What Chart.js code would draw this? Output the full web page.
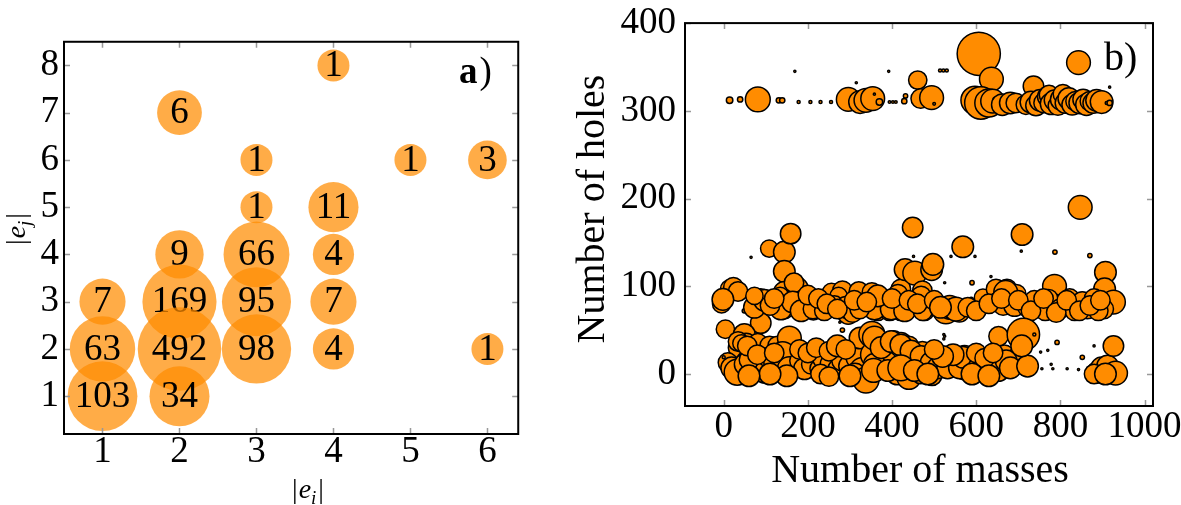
<!DOCTYPE html>
<html>
<head>
<meta charset="utf-8">
<script src="https://cdn.jsdelivr.net/npm/chart.js@4.4.0/dist/chart.umd.min.js"></script>
<style>
  html, body { margin: 0; padding: 0; background: #fff; overflow: hidden; }
  #boxA { position: absolute; left: 0; top: 0; }
  #boxB { position: absolute; left: 570px; top: 0; }
</style>
</head>
<body>
<div id="boxA"><canvas id="chartA" width="560" height="505"></canvas></div>
<div id="boxB"><canvas id="chartB" width="611" height="505"></canvas></div>
<script>
// ---- panel a) : pair counts per (|e_i|, |e_j|) ----
const pairI     = [1, 1, 1,   2, 2, 2,   2,   2,  3, 3, 3,  3,  3,  4, 4,  4, 4, 4,  5,  6, 6];
const pairJ     = [3, 2, 1,   7, 4, 3,   2,   1,  6, 5, 4,  3,  2,  8, 5,  4, 3, 2,  6,  6, 2];
const pairCount = [7, 63, 103, 6, 9, 169, 492, 34, 1, 1, 66, 95, 98, 1, 11, 4, 7, 4,  1,  3, 1];
const ticksI = [1, 2, 3, 4, 5, 6];
const ticksJ = [1, 2, 3, 4, 5, 6, 7, 8];

// ---- panel b) : number of masses vs number of holes, marker area ----
const massesX = [
  // upper band
  14, 39, 81, 131, 139, 169, 178, 206, 230, 255, 296, 324, 338, 354, 358, 370, 315, 392, 394, 402,
  409, 429, 432, 461, 468, 494, 500, 514, 522, 530, 606, 636, 597, 611, 630, 639, 645, 662, 681, 694,
  704, 718, 736, 730, 742, 752, 760, 770, 773, 778, 786, 794, 802, 806, 812, 820, 828, 836, 846, 854,
  862, 870, 878, 886, 898, 910, 917, 917, 843,
  // middle band
  -5, 14, 23, 34, 9, 49, 88, 77, 88, 65, 108, 144, 159, 144, 144, 157, 176, 190, 144, 134,
  167, 213, 236, 256, 256, 282, 273, 296, 321, 352, 301, 282, 276, 338, 366, 380, 394, 421, 429, 421,
  431, 454, 472, 477, 494, 497, 449, 451, 444, 528, 537, 546, 560, 525, 523, 523, 568, 597, 540, 709,
  707, 787, 635, 590, 786, 616, 647, 673, 695, 670, 651, 664, 691, 722, 754, 786, 810, 588, 588, 847,
  870, 907, 905, 926, 903, 738, 764, 772, 798, 822, 834, 852, 864, 880, 890, 358, 398, 430, 473, 552,
  366, 414, 469, -2, 73, 97, 136, 164, 184, 212, 239, 263, 291, 306, 323, 73,
  110, 120, 200, 225, 245, 270, 310, 340, 400, 440, 460, 500, 515, 580, 600, 630, 660, 700, 730, 760,
  790, 815, 845, 870, 895,
  // lower band
  4, 49, 53, 81, 109, 128, 156, 34, 34, 198, 10, 26, 57, 81, 97, 105, 121, 140, 140, 156,
  180, 192, 208, 228, 235, 255, 271, 280, 299, 319, 330, 312, 338, 324, 352, 375, 356, 384, 403, 421,
  440, 449, 477, 500, 523, 412, 440, 468, 495, 472, 358, 358, 374, 398, 421, 445, 469, 493, 509, 532,
  572, 572, 612, 643, 667, 667, 691, 718, 356, 390, 421, 453, 485, 560, 569, 606, 634, 653, 671, 681,
  722, 653, 712, 708, 738, 525, 753, 770, 792, 756, 778, 782, 816, 843, 852, 866, 870, 880, 889, 898,
  912, 931, 880, 907, 926, 0, 19, 32, 51, 60, 42, 56,
  180, 200, 220, 250, 270, 290, 230, 250, 300, 150, 110, 60, 80, 120, 600, 620, 640, 590, 630, 545,
  520, 500
];
const holesY = [
  312, 313, 313, 312, 312, 345, 310, 310, 310, 310, 313, 310, 312, 314, 319, 310, 332, 345, 310, 310,
  310, 311, 317, 335, 314, 315, 308, 346, 346, 346, 365, 336, 312, 309, 309, 311, 313, 307, 309, 309,
  312, 307, 328, 310, 306, 312, 309, 316, 318, 308, 312, 306, 313, 319, 309, 314, 307, 311, 309, 313,
  307, 311, 309, 312, 310, 309, 309, 327, 355,
  80, 97, 99, 94, 77, 72, 86, 74, 58, 133, 143, 139, 160, 117, 93, 82, 98, 78, 74, 89,
  104, 72, 72, 78, 93, 95, 89, 69, 94, 93, 77, 50, 59, 72, 72, 74, 72, 72, 78, 97,
  119, 115, 95, 72, 119, 125, 167, 134, 76, 72, 76, 74, 71, 104, 45, 40, 145, 134, 134, 159,
  140, 139, 111, 104, 100, 87, 97, 97, 91, 93, 82, 78, 78, 76, 78, 80, 80, 85, 82, 190,
  135, 116, 97, 82, 74, 84, 72, 86, 74, 86, 72, 82, 74, 86, 72, 74, 74, 72, 72, 74,
  89, 91, 89, 85, 76, 84, 74, 82, 72, 74, 72, 78, 76, 70, 74, 89,
  78, 86, 90, 86, 80, 74, 84, 82, 86, 84, 80, 84, 76, 76, 72, 80, 86, 84, 72, 86,
  70, 84, 72, 78, 84,
  51, 45, 34, 35, 32, 32, 41, 30, 37, 33, 13, 6, 13, 9, 2, 19, 13, 9, 22, 6,
  15, 6, 11, 6, 17, 11, 6, 15, 9, 19, 4, 0, -7, 41, 45, 33, 22, 11, 37, 35,
  32, 20, 19, 13, 7, 0, -4, 0, -2, 26, 41, 11, 30, 37, 33, 26, 20, 13, 7, 7,
  19, 7, 7, 7, 13, 22, 17, 9, 4, 4, 7, 4, 0, 7, 19, 7, 11, 4, 15, 7,
  9, 43, 45, 32, 45, 43, 25, 27, 36, 6, 11, 6, 6, 5, 19, 7, 6, 32, 2, 7,
  9, 1, 0, 0, 32, 19, 7, 2, 11, 16, 35, 32,
  28, 24, 30, 26, 32, 28, 0, -3, -2, -2, 0, -2, 22, 24, 24, 18, 24, 0, -2, 22,
  20, 28
];
const markerArea = [
  9, 6, 132, 6, 6, 1, 2, 2, 2, 2, 121, 110, 121, 121, 1, 9, 1, 1, 1.5, 1.5,
  1.5, 6, 4, 72, 81, 121, 1.5, 2, 2, 2, 400, 121, 169, 225, 169, 121, 4, 100, 100, 81,
  4, 81, 90, 100, 90, 100, 81, 90, 81, 100, 90, 81, 100, 81, 90, 100, 90, 81, 100, 90,
  100, 81, 90, 100, 110, 2, 6, 1, 121,
  72, 72, 81, 81, 2, 4, 81, 64, 90, 1, 64, 100, 90, 100, 100, 81, 90, 81, 81, 64,
  81, 72, 72, 72, 72, 81, 64, 100, 81, 81, 4, 4, 1, 1, 81, 64, 81, 81, 72, 81,
  100, 121, 81, 81, 100, 100, 90, 1, 4, 144, 121, 100, 90, 1, 1, 1, 100, 1, 1, 100,
  1, 4, 1, 4, 121, 64, 81, 81, 81, 121, 81, 81, 100, 81, 81, 81, 81, 4, 4, 121,
  4, 100, 100, 121, 81, 81, 81, 72, 81, 81, 81, 90, 81, 81, 81, 100, 100, 100, 81, 121,
  100, 81, 81, 100, 100, 100, 100, 100, 100, 81, 81, 81, 100, 81, 81, 64,
  81, 81, 81, 81, 81, 81, 81, 81, 81, 81, 81, 81, 100, 81, 81, 81, 81, 81, 81, 81,
  81, 81, 81, 81, 81,
  72, 100, 100, 81, 81, 81, 121, 81, 81, 2, 81, 100, 121, 100, 100, 81, 100, 121, 144, 121,
  81, 100, 81, 81, 81, 100, 81, 81, 100, 121, 144, 100, 144, 100, 144, 121, 144, 144, 100, 100,
  81, 100, 100, 81, 81, 100, 121, 81, 81, 81, 121, 100, 100, 100, 100, 100, 100, 100, 100, 100,
  121, 121, 121, 100, 100, 81, 81, 81, 121, 100, 144, 100, 100, 100, 100, 100, 100, 100, 100, 100,
  100, 81, 225, 100, 2, 1, 1, 1, 4, 1, 1, 1, 1, 1, 4, 1, 1, 1, 100, 100,
  100, 121, 81, 100, 90, 2, 100, 144, 100, 81, 64, 81,
  81, 81, 81, 81, 100, 81, 81, 81, 100, 100, 100, 100, 81, 81, 81, 81, 81, 100, 100, 100,
  100, 81
];
const ticksMasses = [0, 200, 400, 600, 800, 1000];
const ticksHoles = [0, 100, 200, 300, 400];

const SERIF = '"Liberation Serif", "DejaVu Serif", serif';
const tickFont = { family: SERIF, size: 37, lineHeight: 1 };

// bubble radius in panel a grows with the log of the count
function bubbleRadius(n) {
  return Math.max(16, 14.5 + 4.4 * Math.log(n));
}

function fixedTicks(values) {
  return function (scale) { scale.ticks = values.map(v => ({ value: v })); };
}

// black frame + small grey inward ticks on all four sides
const framePlugin = {
  id: 'frame',
  afterDraw(chart) {
    const ctx = chart.ctx, a = chart.chartArea;
    const sx = chart.scales.x, sy = chart.scales.y;
    ctx.save();
    ctx.strokeStyle = '#999';
    ctx.lineWidth = 1.5;
    ctx.beginPath();
    sx.ticks.forEach(t => {
      const p = Math.round(sx.getPixelForValue(t.value)) + 0.5;
      ctx.moveTo(p, a.bottom); ctx.lineTo(p, a.bottom - 6);
      ctx.moveTo(p, a.top); ctx.lineTo(p, a.top + 6);
    });
    sy.ticks.forEach(t => {
      const p = Math.round(sy.getPixelForValue(t.value)) + 0.5;
      ctx.moveTo(a.left, p); ctx.lineTo(a.left + 6, p);
      ctx.moveTo(a.right, p); ctx.lineTo(a.right - 6, p);
    });
    ctx.stroke();
    ctx.strokeStyle = '#000';
    ctx.lineWidth = 2;
    ctx.strokeRect(a.left, a.top, a.right - a.left, a.bottom - a.top);
    ctx.restore();
  }
};

// count written in the middle of each bubble of panel a
const countLabels = {
  id: 'countLabels',
  afterDatasetDraw(chart, args) {
    const el = args.meta.data[0];
    if (!el) return;
    const ctx = chart.ctx;
    ctx.save();
    ctx.fillStyle = '#000';
    ctx.font = '37px ' + SERIF;
    ctx.textAlign = 'center';
    ctx.textBaseline = 'middle';
    ctx.fillText(chart.data.datasets[args.index].label, el.x, el.y + 1);
    ctx.restore();
  }
};

// |e_i| style label: bars upright, e and subscript italic
function drawAbsLabel(ctx, cx, baseY, sub) {
  const big = '28px ' + SERIF, ital = 'italic 28px ' + SERIF, small = 'italic 19px ' + SERIF;
  ctx.font = big; const wBar = ctx.measureText('|').width;
  ctx.font = ital; const wE = ctx.measureText('e').width;
  ctx.font = small; const wS = ctx.measureText(sub).width;
  const total = wBar * 2 + wE + wS + 3;
  let x = cx - total / 2;
  ctx.textAlign = 'left';
  ctx.textBaseline = 'alphabetic';
  ctx.font = big; ctx.fillText('|', x, baseY); x += wBar + 1;
  ctx.font = ital; ctx.fillText('e', x, baseY); x += wE;
  ctx.font = small; ctx.fillText(sub, x, baseY + 6); x += wS + 2;
  ctx.font = big; ctx.fillText('|', x, baseY);
}

const annotA = {
  id: 'annotA',
  afterDraw(chart) {
    const ctx = chart.ctx;
    ctx.save();
    ctx.fillStyle = '#000';
    drawAbsLabel(ctx, 308, 498, 'i');
    ctx.translate(17, 229);
    ctx.rotate(-Math.PI / 2);
    drawAbsLabel(ctx, 0, 8, 'j');
    ctx.setTransform(1, 0, 0, 1, 0, 0);
    ctx.textBaseline = 'alphabetic';
    ctx.textAlign = 'left';
    ctx.font = 'bold 37px ' + SERIF;
    ctx.fillText('a', 459, 83);
    const wa = ctx.measureText('a').width;
    ctx.font = '37px ' + SERIF;
    ctx.fillText(')', 459 + wa + 2, 83);
    ctx.restore();
  }
};

const annotB = {
  id: 'annotB',
  afterDraw(chart) {
    const ctx = chart.ctx;
    ctx.save();
    ctx.fillStyle = '#000';
    ctx.font = '40px ' + SERIF;
    ctx.textAlign = 'center';
    ctx.textBaseline = 'alphabetic';
    ctx.fillText('Number of masses', 920 - 570, 482);
    ctx.translate(591 - 570 + 13, 209);
    ctx.rotate(-Math.PI / 2);
    ctx.fillText('Number of holes', 0, 0);
    ctx.setTransform(1, 0, 0, 1, 0, 0);
    ctx.textAlign = 'left';
    ctx.fillText('b)', 1104 - 570, 70);
    ctx.restore();
  }
};

function buildCharts() {
  const datasetsA = pairCount.map((n, i) => ({
    label: String(n),
    data: [{ x: pairI[i], y: pairJ[i], r: bubbleRadius(n) }],
    backgroundColor: 'rgba(255,140,0,0.72)',
    borderWidth: 0,
    order: pairCount.length - i
  }));

  new Chart(document.getElementById('chartA'), {
    type: 'bubble',
    data: { datasets: datasetsA },
    options: {
      responsive: false,
      animation: false,
      events: [],
      devicePixelRatio: 1,
      layout: { padding: { left: 0, right: 8, top: 23, bottom: 0 } },
      plugins: { legend: { display: false }, tooltip: { enabled: false } },
      scales: {
        x: {
          type: 'linear', min: 0.5, max: 6.4,
          grid: { display: false, drawTicks: false },
          border: { display: false },
          ticks: { font: tickFont, color: '#000', padding: 0, maxRotation: 0, callback: v => String(v) },
          afterBuildTicks: fixedTicks(ticksI),
          afterFit: s => { s.height = 71; s.paddingLeft = 0; s.paddingRight = 0; }
        },
        y: {
          type: 'linear', min: 0.2, max: 8.5,
          grid: { display: false, drawTicks: false },
          border: { display: false },
          ticks: { font: tickFont, color: '#000', padding: 5, callback: v => String(v) },
          afterBuildTicks: fixedTicks(ticksJ),
          afterFit: s => { s.width = 64; s.paddingTop = 0; s.paddingBottom = 0; }
        }
      }
    },
    plugins: [countLabels, framePlugin, annotA]
  });

  const pointsB = massesX.map((x, i) => ({ x: x, y: holesY[i], r: 1.08 * Math.sqrt(markerArea[i]) }));

  new Chart(document.getElementById('chartB'), {
    type: 'bubble',
    data: {
      datasets: [{
        data: pointsB,
        backgroundColor: '#ff8c00',
        borderColor: '#000',
        borderWidth: 1.5
      }]
    },
    options: {
      responsive: false,
      animation: false,
      events: [],
      devicePixelRatio: 1,
      layout: { padding: { left: 0, right: 28, top: 14, bottom: 0 } },
      plugins: { legend: { display: false }, tooltip: { enabled: false } },
      scales: {
        x: {
          type: 'linear', min: -92, max: 1020,
          grid: { display: false, drawTicks: false },
          border: { display: false },
          ticks: { font: tickFont, color: '#000', padding: 3, maxRotation: 0, callback: v => String(v) },
          afterBuildTicks: fixedTicks(ticksMasses),
          afterFit: s => { s.height = 99; s.paddingLeft = 0; s.paddingRight = 0; }
        },
        y: {
          type: 'linear', min: -36.5, max: 400,
          grid: { display: false, drawTicks: false },
          border: { display: false },
          ticks: { font: tickFont, color: '#000', padding: 9, callback: v => String(v) },
          afterBuildTicks: fixedTicks(ticksHoles),
          afterFit: s => { s.width = 115; s.paddingTop = 0; s.paddingBottom = 0; }
        }
      }
    },
    plugins: [framePlugin, annotB]
  });
}

// make sure the serif face is ready before the canvases are painted
Promise.all([
  document.fonts.load('37px "Liberation Serif"'),
  document.fonts.load('bold 37px "Liberation Serif"'),
  document.fonts.load('italic 28px "Liberation Serif"')
]).catch(() => null).then(buildCharts);
</script>
</body>
</html>
